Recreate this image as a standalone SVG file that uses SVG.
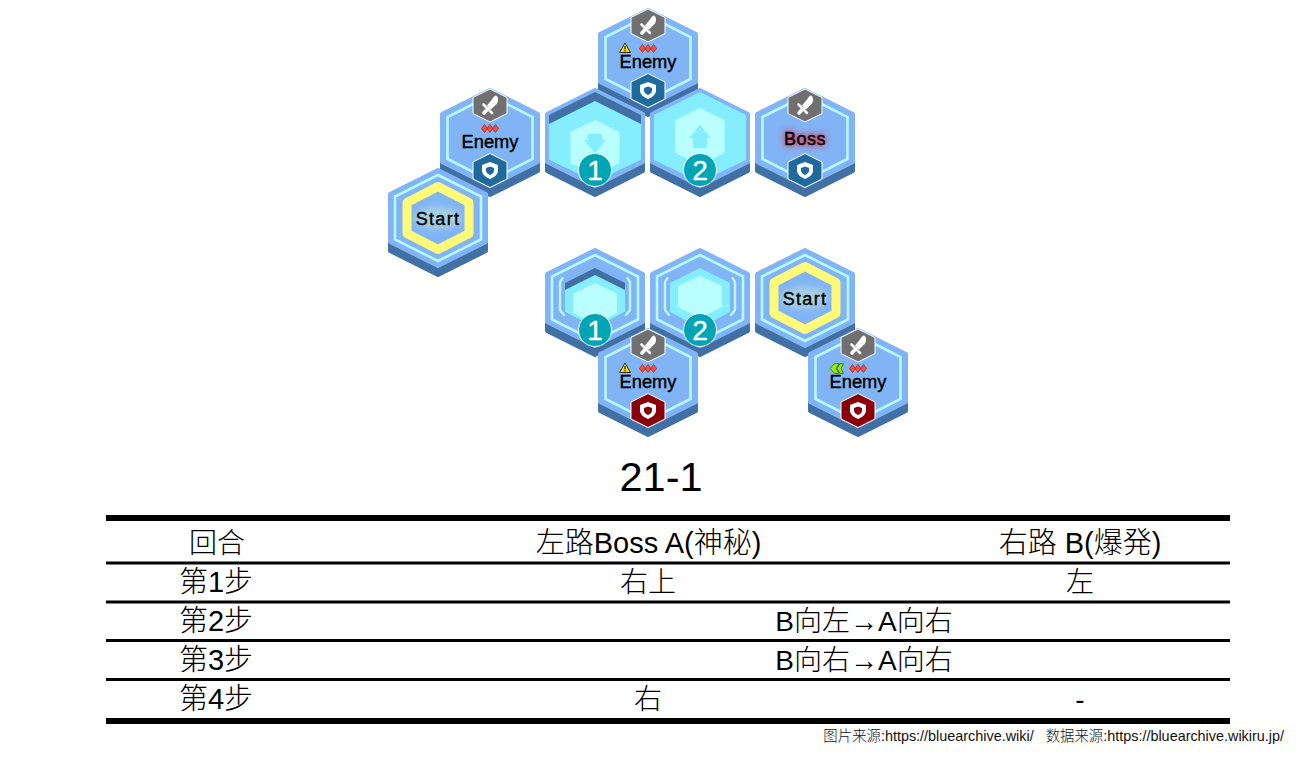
<svg xmlns="http://www.w3.org/2000/svg" width="1296" height="759" viewBox="0 0 1296 759">
<style>
.t{font-family:"Liberation Sans","Noto Sans CJK SC",sans-serif;fill:#000}
.lab{font-size:18.300px;text-anchor:middle;stroke:#000;stroke-width:.4px}
.st{font-size:18px;letter-spacing:1.300px}
.bs{font-size:18px;letter-spacing:.5px}
.num{font-family:"Liberation Sans",sans-serif;font-size:28px;fill:#fff;text-anchor:middle;stroke:#fff;stroke-width:.4px}
.cell{font-size:28px;text-anchor:middle;font-weight:300}
.big{font-size:29px}
.rule{fill:#000}
.cr{white-space:pre;fill:#111;font-weight:300}
</style>
<defs>
<filter id="gw" x="-30%" y="-60%" width="160%" height="220%"><feGaussianBlur stdDeviation="3"/></filter>
<path id="hx" d="M0-48 48-24V24L0 48-48 24V-24Z" stroke-width="4" stroke-linejoin="round"/>
<path id="ring" d="M0-42.500 42.500-21V21L0 42.500-42.500 21V-21Z" fill="none" stroke="#b8f8ff" stroke-width="2.600"/>
<g id="base"><use href="#hx" y="9" fill="#4170a5" stroke="#4170a5"/><use href="#hx" fill="#80b4f5" stroke="#80b4f5"/></g>
<g id="sword"><path d="M0-16.500 17-8V8L0 16.500-17 8V-8Z" fill="#707070" stroke="#fff" stroke-width="1" stroke-linejoin="round"/>
<path d="M6-10C8.500-9 8.500-4 7-2L1 4-3 0 2-6C3-8 5-10 6-10Z" fill="#fff"/><path d="M-6.500-1 2 7.500" stroke="#fff" stroke-width="2.500" stroke-linecap="round"/><path d="M-2 3-6 7.500" stroke="#fff" stroke-width="3.500" stroke-linecap="round"/></g>
<g id="shield"><path d="M0-17 17-8.500V8.500L0 17-17 8.500V-8.500Z" stroke="#fff" stroke-width="1" stroke-linejoin="round"/>
<path d="M0-8.500 8-5.500V0C8 4 4 7 0 8.500-4 7-8 4-8 0V-5.500Z" fill="#fff"/><path d="M0-4 4-2.500V0C4 2 2 3.500 0 4.500-2 3.500-4 2-4 0V-2.500Z"/></g>
<g id="diam"><path d="M-5.500-4-2.500 0-5.500 4-8.500 0ZM0-4 3 0 0 4-3 0ZM5.500-4 8.500 0 5.500 4 2.500 0Z" fill="#f0503c" stroke="#a82020" stroke-width=".7"/></g>
<g id="warn"><path d="M0-5 5.500 4.500H-5.500Z" fill="#ffd800" stroke="#222" stroke-width=".9" stroke-linejoin="round"/><path d="M0-2V1.500M0 2.300V3.500" stroke="#222" stroke-width="1.200"/></g>
<g id="chev"><path d="M-1.500-4.800H3L0 0 3 4.800H-1.500L-6 0ZM4-4.800H7.500L5 0 7.500 4.800H4L1 0Z" fill="#9af000" stroke="#2a6a00" stroke-width=".8"/></g>
<g id="sb"><use href="#shield" style="fill:#1f6a9c"/></g>
<g id="sr"><use href="#shield" style="fill:#8a0008"/></g>
<g id="startface"><use href="#base"/>
<path d="M0-43 43-21.500V21.500L0 43-43 21.500V-21.500Z" fill="none" stroke="#b8f8ff" stroke-width="2.600"/>
<path d="M0-31.500 31-15.500V15.500L0 31.500-31 15.500V-15.500Z" fill="#80b4f5" stroke="#fff97a" stroke-width="9" stroke-linejoin="round"/>
<ellipse cx="0" cy="0" rx="24" ry="11" fill="#d8f0c8" opacity=".45" filter="url(#gw)"/></g>
<g id="enemyface"><use href="#base"/><use href="#ring"/></g>
<g id="pit"><use href="#base"/>
<path d="M0-43 43-21.500V21.500L0 43-43 21.500V-21.500Z" fill="none" stroke="#b8f8ff" stroke-width="2.600"/>
<path d="M-32.500-20-35-16V12L-31 17M32.500-20 35-16V12L31 17" fill="none" stroke="#b8f8ff" stroke-width="2.400" stroke-linecap="round"/></g>
</defs>
<rect width="1296" height="759" fill="#fff"/>

<g id="connectors"/>

<g id="node-enemy-top" transform="translate(648 58)"><use href="#enemyface"/><use href="#sword" y="-32.500"/><use href="#warn" x="-23" y="-10"/><use href="#diam" y="-9.500"/><text class="t lab" y="9.500">Enemy</text><use href="#sb" y="32.500"/></g>

<g id="node-enemy-left" transform="translate(490 138)"><use href="#enemyface"/><use href="#sword" y="-32.500"/><use href="#diam" y="-9.500"/><text class="t lab" y="9.500">Enemy</text><use href="#sb" y="32.500"/></g>

<g id="node-start-top" transform="translate(438 218)"><use href="#startface"/><text class="t lab st" y="7">Start</text></g>

<g id="node-arrow-1" transform="translate(595 138)"><use href="#base"/>
<path d="M0-46 46-23V22L0 44-46 22V-23Z" fill="#4170a5"/><path d="M0-37 46-14V22L0 44-46 22V-14Z" fill="#84eeff"/>
<path d="M0-18 24.500-6V25L0 37-24.500 25V-6Z" fill="#baffff"/>
<path d="M-7-4H7V2H11L0 15-11 2H-7Z" fill="#84eeff"/>
<circle cy="32" r="16.500" fill="#00a5b5" stroke="#fff"/><text class="num" y="42">1</text></g>

<g id="node-arrow-2" transform="translate(700 138)"><use href="#base"/>
<path d="M0-46 46-23V22L0 44-46 22V-23Z" fill="#84eeff"/>
<path d="M0-30 24.500-18V15L0 27-24.500 15V-18Z" fill="#baffff"/>
<path d="M0-13 11 0H7V10H-7V0H-11Z" fill="#84eeff"/>
<circle cy="32" r="16.500" fill="#00a5b5" stroke="#fff"/><text class="num" y="42">2</text></g>

<g id="node-boss" transform="translate(805 138)"><use href="#enemyface"/><use href="#sword" y="-32.500"/>
<text class="t lab bs" y="6.500" style="stroke:#e03050;stroke-width:3px" filter="url(#gw)" opacity=".7">Boss</text><text class="t lab bs" y="6.500">Boss</text><use href="#sb" y="32.500"/></g>

<g id="node-pit-1" transform="translate(595 298)"><use href="#pit"/>
<path d="M0-30 30-15V14L0 30-30 14V-15Z" fill="#4170a5"/><path d="M0-23 30-8V14L0 30-30 14V-8Z" fill="#84eeff"/>
<path d="M0-15 22-4V15L0 26-22 15V-4Z" fill="#baffff"/>
<circle cy="32" r="16.500" fill="#00a5b5" stroke="#fff"/><text class="num" y="42">1</text></g>

<g id="node-pit-2" transform="translate(700 298)"><use href="#pit"/>
<path d="M0-30 30-15V14L0 30-30 14V-15Z" fill="#84eeff"/>
<path d="M0-22 22-12V9L0 20-22 9V-12Z" fill="#baffff"/>
<circle cy="32" r="16.500" fill="#00a5b5" stroke="#fff"/><text class="num" y="42">2</text></g>

<g id="node-start-bottom" transform="translate(805 298)"><use href="#startface"/><text class="t lab st" y="7">Start</text></g>

<g id="node-enemy-bottom-1" transform="translate(648 378)"><use href="#enemyface"/><use href="#sword" y="-32.500"/><use href="#warn" x="-23" y="-10"/><use href="#diam" y="-9.500"/><text class="t lab" y="9.500">Enemy</text><use href="#sr" y="32.500"/></g>

<g id="node-enemy-bottom-2" transform="translate(858 378)"><use href="#enemyface"/><use href="#sword" y="-32.500"/><use href="#chev" x="-22" y="-9.500"/><use href="#diam" y="-9.500"/><text class="t lab" y="9.500">Enemy</text><use href="#sr" y="32.500"/></g>

<text id="title" class="t" x="661" y="490.500" font-size="41.500" text-anchor="middle">21-1</text>

<g id="table">
<rect class="rule" x="106" y="515" width="1124" height="6"/>
<rect class="rule" x="106" y="561.500" width="1124" height="3"/>
<rect class="rule" x="106" y="600.500" width="1124" height="3"/>
<rect class="rule" x="106" y="639" width="1124" height="3"/>
<rect class="rule" x="106" y="678" width="1124" height="3"/>
<rect class="rule" x="106" y="718" width="1124" height="6"/>
<text class="t cell" x="217" y="553">回合</text>
<text class="t cell big" x="648.500" y="553">左路Boss A(神秘)</text>
<text class="t cell big" x="1080" y="553">右路 B(爆発)</text>
<text class="t cell big" x="216" y="592">第1步</text>
<text class="t cell" x="648" y="592">右上</text>
<text class="t cell" x="1080" y="592">左</text>
<text class="t cell big" x="216" y="631">第2步</text>
<text class="t cell" x="864" y="631">B向左→A向右</text>
<text class="t cell big" x="216" y="670">第3步</text>
<text class="t cell" x="864" y="670">B向右→A向右</text>
<text class="t cell big" x="216" y="709">第4步</text>
<text class="t cell" x="648" y="709">右</text>
<text class="t cell" x="1080" y="709">-</text>
</g>
<text id="credit" class="t cr" x="1284" y="741" font-size="14.400" text-anchor="end">图片来源:https://bluearchive.wiki/   数据来源:https://bluearchive.wikiru.jp/</text>
</svg>
